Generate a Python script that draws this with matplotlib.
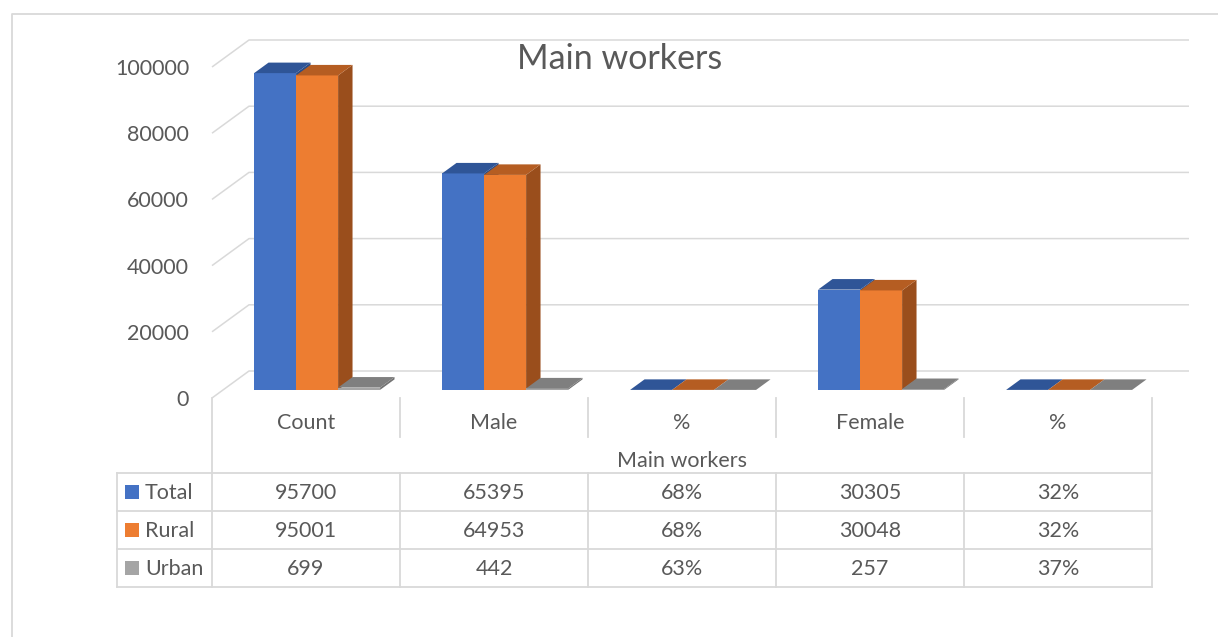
import matplotlib
matplotlib.use("Agg")
import matplotlib.pyplot as plt
from matplotlib.patches import Polygon, Rectangle
import numpy as np

W, H = 1218, 637

# --- data ---
categories = ["Count", "Male", "%", "Female", "%"]
group_label = "Main workers"
series = ["Total", "Rural", "Urban"]
total = [95700, 65395, 0.68, 30305, 0.32]
rural = [95001, 64953, 0.68, 30048, 0.32]
urban = [699, 442, 0.63, 257, 0.37]
pct_cols = [2, 4]
yticks = [0, 20000, 40000, 60000, 80000, 100000]

colors = ["#4472C4", "#ED7D31", "#A5A5A5"]
top_colors = ["#2F5597", "#B55D22", "#7F7F7F"]
side_colors = ["#2A4C86", "#9A4E1C", "#737373"]
TXT = "#595959"
GRID = "#D9D9D9"
FS = 15.5

plt.rcParams["font.family"] = ["Lato", "DejaVu Sans"]

fig = plt.figure(figsize=(W / 100, H / 100), dpi=100)
fig.patch.set_facecolor("white")

# main axes = front plane of the 3d box, gives the value scale + tick labels
ax = fig.add_axes([212 / W, (H - 398) / H, 940 / W, 331 / H])
ax.set_xlim(-0.5, 4.5)
ax.set_ylim(0, 100000)
ax.patch.set_visible(False)
for s in ax.spines.values():
    s.set_visible(False)
ax.set_xticks([])
ax.set_yticks(yticks)
ax.set_yticklabels([str(v) for v in yticks])
ax.tick_params(axis="y", length=0, pad=16.5, labelsize=FS, labelcolor=TXT)
for t in ax.get_yticklabels():
    t.set_y(t.get_position()[1])

# overlay in pixel coords (y down) for the fake 3d drawing and the data table
lay = fig.add_axes([0, 0, 1, 1])
lay.set_xlim(0, W)
lay.set_ylim(H, 0)
lay.axis("off")

DEPTH = (37.0, -27.0)  # offset of the back wall in px
inv = lay.transData.inverted()


def P(x, y, d):
    px, py = inv.transform(ax.transData.transform((x, y)))
    return (px + d * DEPTH[0], py + d * DEPTH[1])


# back wall grid + left wall diagonals
for v in yticks:
    a, b, c = P(-0.5, v, 0), P(-0.5, v, 1), P(4.5, v, 1)
    lay.plot([a[0], b[0], c[0]], [a[1], b[1], c[1]], color=GRID, lw=1.1,
             solid_capstyle="butt", zorder=1)

# bars
vals = [total, rural, urban]
w = 0.2234
f0, f1 = 0.30, 0.69
for i in range(len(categories)):
    for j in range(len(series)):
        h = vals[j][i]
        x0 = i + (j - 1) * w - w / 2
        x1 = x0 + w
        side = [P(x1, 0, f0), P(x1, h, f0), P(x1, h, f1), P(x1, 0, f1)]
        front = [P(x0, 0, f0), P(x1, 0, f0), P(x1, h, f0), P(x0, h, f0)]
        top = [P(x0, h, f0), P(x1, h, f0), P(x1, h, f1), P(x0, h, f1)]
        lay.add_patch(Polygon(side, closed=True, fc=side_colors[j], ec="none", zorder=2))
        lay.add_patch(Polygon(front, closed=True, fc=colors[j], ec="none", zorder=2))
        lay.add_patch(Polygon(top, closed=True, fc=top_colors[j], ec="none", zorder=2))

# title
lay.text(620, 59, "Main workers", ha="center", va="center", fontsize=24.5, color=TXT)

# --- data table ---
xs = [P(c - 0.5, 0, 0)[0] for c in range(len(categories) + 1)]
y_top = P(-0.5, 0, 0)[1]
y_cat = 437
rows_y = [473, 511, 549, 587]
x_leg = 117
lk = dict(color=GRID, lw=1.3, zorder=1, solid_capstyle="projecting")

lay.plot([xs[0], xs[0]], [y_top, rows_y[-1]], **lk)
lay.plot([xs[-1], xs[-1]], [y_top, rows_y[-1]], **lk)
for xv in xs[1:-1]:
    lay.plot([xv, xv], [y_top, y_cat], **lk)
    lay.plot([xv, xv], [rows_y[0], rows_y[-1]], **lk)
lay.plot([x_leg, x_leg], [rows_y[0], rows_y[-1]], **lk)
for yv in rows_y:
    lay.plot([x_leg, xs[-1]], [yv, yv], **lk)

centers = [(xs[c] + xs[c + 1]) / 2 for c in range(len(categories))]
for c, lab in enumerate(categories):
    lay.text(centers[c], 423, lab, ha="center", va="center", fontsize=FS, color=TXT)
lay.text((xs[0] + xs[-1]) / 2, 461, group_label, ha="center", va="center",
         fontsize=FS, color=TXT)

for j, name in enumerate(series):
    yc = (rows_y[j] + rows_y[j + 1]) / 2
    lay.add_patch(Rectangle((125, yc - 7), 14, 14, fc=colors[j], ec="none", zorder=2))
    lay.text(145, yc + 1, name, ha="left", va="center", fontsize=FS, color=TXT)
    for c in range(len(categories)):
        v = vals[j][c]
        s = f"{v:.0%}" if c in pct_cols else f"{v:.0f}"
        lay.text(centers[c], yc + 1, s, ha="center", va="center", fontsize=FS, color=TXT)

# chart area border
lay.plot([12, 12, W], [H, 14, 14], color=GRID, lw=1.3, zorder=1)

fig.savefig("out.png", dpi=100)
